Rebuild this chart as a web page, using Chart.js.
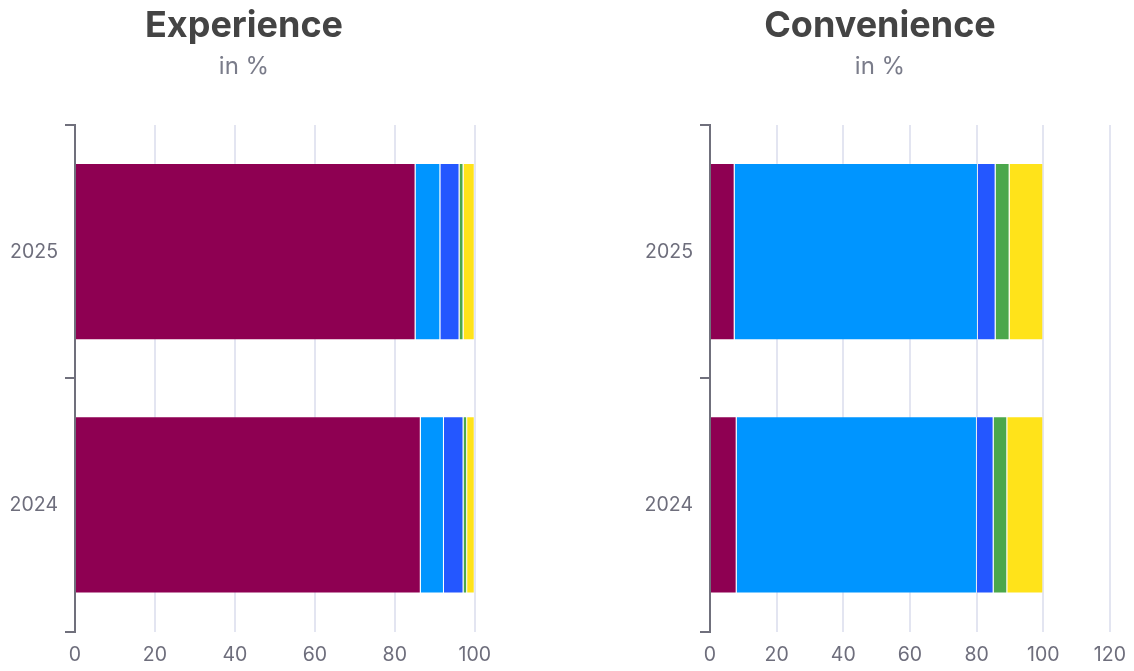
<!DOCTYPE html>
<html>
<head>
<meta charset="utf-8">
<script src="https://cdn.jsdelivr.net/npm/chart.js@4"></script>
<style>
  html, body { margin: 0; padding: 0; background: #fff; overflow: hidden; }
  .wrap { position: absolute; top: 0; height: 679px; }
  #left { left: -15px; width: 518px; }
  #right { left: 622px; width: 516px; }
</style>
</head>
<body>
<div class="wrap" id="left"><canvas id="experienceChart"></canvas></div>
<div class="wrap" id="right"><canvas id="convenienceChart"></canvas></div>
<script>
const years = ["2025", "2024"];
const segmentColors = ["#8e0052", "#0095ff", "#2457ff", "#4ba74b", "#ffe31a"];
const segmentNames = ["Segment A", "Segment B", "Segment C", "Segment D", "Segment E"];

// Experience shares per year (2025, 2024)
const expA = [85.2, 86.5];
const expB = [6.2, 5.8];
const expC = [4.8, 4.9];
const expD = [1.0, 0.9];
const expE = [2.8, 1.9];

// Convenience shares per year (2025, 2024)
const convA = [7.4, 8.0];
const convB = [73.0, 72.1];
const convC = [5.3, 5.0];
const convD = [4.2, 4.1];
const convE = [10.1, 10.8];

const tickFont = { family: "Inter", size: 19.5 };
const tickColor = "#6e6e7c";

function buildChart(canvasId, title, series, xMax, yAxisWidth) {
    new Chart(document.getElementById(canvasId), {
        type: "bar",
        data: {
            labels: years,
            datasets: series.map((values, i) => ({
                label: segmentNames[i],
                data: values,
                backgroundColor: segmentColors[i],
                borderColor: "rgba(255,255,255,0.15)",
                borderWidth: 1,
                categoryPercentage: 0.7,
                barPercentage: 1
            }))
        },
        options: {
            indexAxis: "y",
            responsive: true,
            maintainAspectRatio: false,
            animation: false,
            layout: { padding: 0 },
            plugins: {
                legend: { display: false },
                tooltip: { enabled: false },
                title: {
                    display: true,
                    text: title,
                    color: "#444444",
                    font: { family: "Inter", size: 36, weight: "bold" },
                    padding: { top: 5, bottom: 4 }
                },
                subtitle: {
                    display: true,
                    text: "in %",
                    color: "#7a7c8a",
                    font: { family: "Inter", size: 24 },
                    padding: { bottom: 44 }
                }
            },
            scales: {
                x: {
                    stacked: true,
                    min: 0,
                    max: xMax,
                    ticks: { stepSize: 20, color: tickColor, font: tickFont, padding: 12 },
                    grid: { color: "#e3e5f1", lineWidth: 2, drawTicks: false },
                    border: { display: false }
                },
                y: {
                    stacked: true,
                    afterFit: (scale) => { scale.width = yAxisWidth; },
                    ticks: { color: tickColor, font: tickFont, padding: 7 },
                    grid: {
                        drawOnChartArea: false,
                        drawTicks: true,
                        tickLength: 10,
                        color: "#70707c",
                        lineWidth: 2
                    },
                    border: { display: true, color: "#70707c", width: 2 }
                }
            }
        }
    });
}

buildChart("experienceChart", "Experience", [expA, expB, expC, expD, expE], 100, 90);
buildChart("convenienceChart", "Convenience", [convA, convB, convC, convD, convE], 120, 88);
</script>
</body>
</html>
